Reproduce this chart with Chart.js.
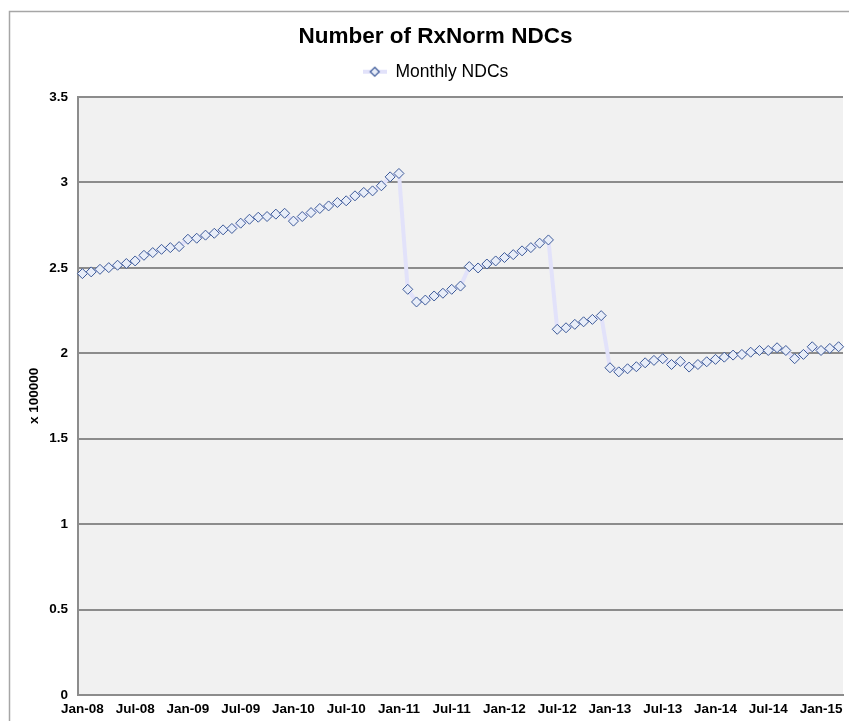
<!DOCTYPE html>
<html>
<head>
<meta charset="utf-8">
<script src="https://cdn.jsdelivr.net/npm/chart.js@4"></script>
<style>
  body { margin: 0; background: #fff; }
  #wrap { width: 849px; height: 721px; position: relative; }
</style>
</head>
<body>
<div id="wrap"><canvas id="chart" width="849" height="721"></canvas></div>
<script>
const monthNames = ['Jan','Feb','Mar','Apr','May','Jun','Jul','Aug','Sep','Oct','Nov','Dec'];
const years = ['08','09','10','11','12','13','14','15'];

// monthly NDC counts, in units of 100000, Jan-08 .. Mar-15
const ndcs = [
  2.466, 2.476, 2.491, 2.501, 2.515, 2.525, 2.540, 2.573, 2.589, 2.608, 2.618, 2.624,
  2.667, 2.673, 2.691, 2.702, 2.722, 2.730, 2.761, 2.784, 2.796, 2.800, 2.814, 2.819,
  2.773, 2.800, 2.823, 2.847, 2.862, 2.882, 2.892, 2.921, 2.941, 2.950, 2.980, 3.032,
  3.052, 2.374, 2.300, 2.311, 2.335, 2.351, 2.374, 2.393, 2.507, 2.499, 2.522, 2.540,
  2.560, 2.577, 2.599, 2.618, 2.644, 2.663, 2.140, 2.149, 2.169, 2.184, 2.198, 2.220,
  1.915, 1.891, 1.909, 1.921, 1.944, 1.958, 1.968, 1.934, 1.952, 1.919, 1.934, 1.950,
  1.964, 1.977, 1.989, 1.993, 2.006, 2.016, 2.016, 2.032, 2.016, 1.968, 1.993, 2.038,
  2.016, 2.028, 2.038
];

const labels = [];
years.forEach(y => monthNames.forEach(m => labels.push(m + '-' + y)));
labels.length = ndcs.length;

const lineColor = '#e2e2fa';
const markerEdge = '#3d5a99';
const markerFill = '#e8edf8';

// legend swatch: short line with a diamond on it
const swatch = document.createElement('canvas');
swatch.width = 24; swatch.height = 12;
(function () {
    const c = swatch.getContext('2d');
    c.strokeStyle = lineColor; c.lineWidth = 4;
    c.beginPath(); c.moveTo(0, 6); c.lineTo(24, 6); c.stroke();
    c.fillStyle = markerFill; c.strokeStyle = markerEdge; c.lineWidth = 1.2;
    c.beginPath(); c.moveTo(12, 1.5); c.lineTo(16.5, 6); c.lineTo(12, 10.5); c.lineTo(7.5, 6); c.closePath();
    c.fill(); c.stroke();
})();

const frame = {
    id: 'frame',
    beforeDraw(chart) {
        const ctx = chart.ctx;
        const a = chart.chartArea;
        ctx.save();
        ctx.fillStyle = '#f1f1f1';
        ctx.fillRect(a.left, a.top, a.right - a.left, a.bottom - a.top);
        ctx.strokeStyle = '#a6a6a6';
        ctx.lineWidth = 1.5;
        ctx.beginPath();
        ctx.moveTo(9.5, 721);
        ctx.lineTo(9.5, 11.5);
        ctx.lineTo(849, 11.5);
        ctx.stroke();
        ctx.restore();
    }
};

new Chart(document.getElementById('chart').getContext('2d'), {
    type: 'line',
    data: {
        labels: labels,
        datasets: [{
            label: 'Monthly NDCs',
            data: ndcs,
            borderColor: lineColor,
            borderWidth: 4,
            pointStyle: 'rectRot',
            pointRadius: 5,
            pointBorderWidth: 1,
            pointBorderColor: markerEdge,
            pointBackgroundColor: markerFill,
            tension: 0
        }]
    },
    options: {
        responsive: false,
        animation: false,
        layout: { padding: { left: 22, right: 0, top: 15, bottom: 0 } },
        plugins: {
            title: {
                display: true,
                text: 'Number of RxNorm NDCs',
                color: '#000',
                font: { family: 'Liberation Sans, Arial', size: 22.5, weight: 'bold' },
                padding: { top: 8, bottom: 7 }
            },
            subtitle: {
                display: true,
                text: ' ',
                position: 'top',
                weight: 0,
                font: { size: 2 },
                padding: { top: 0, bottom: 4 }
            },
            legend: {
                labels: {
                    usePointStyle: true,
                    pointStyleWidth: 24,
                    color: '#000',
                    font: { family: 'Liberation Sans, Arial', size: 17.5 },
                    boxHeight: 12,
                    padding: 6,
                    generateLabels: chart => {
                        const items = Chart.defaults.plugins.legend.labels.generateLabels(chart);
                        items.forEach(it => { it.pointStyle = swatch; });
                        return items;
                    }
                }
            },
            tooltip: { enabled: false }
        },
        scales: {
            x: {
                offset: true,
                grid: { display: false, drawTicks: false },
                border: { color: '#8c8c8c', width: 2 },
                ticks: {
                    autoSkip: false,
                    maxRotation: 0,
                    padding: 6,
                    color: '#000',
                    font: { family: 'Liberation Sans, Arial', size: 13.5, weight: 'bold' },
                    callback: (v, i) => (i % 6 === 0 ? labels[i] : '')
                },
                afterFit: s => { s.height = 26; }
            },
            y: {
                min: 0,
                max: 3.5,
                ticks: {
                    stepSize: 0.5,
                    padding: 10,
                    color: '#000',
                    font: { family: 'Liberation Sans, Arial', size: 13.5, weight: 'bold' },
                    callback: v => String(v)
                },
                grid: { color: '#8c8c8c', lineWidth: 2, drawTicks: false },
                border: { color: '#8c8c8c', width: 2 },
                title: {
                    display: true,
                    text: 'x 100000',
                    color: '#000',
                    font: { family: 'Liberation Sans, Arial', size: 13.5, weight: 'bold' }
                },
                afterFit: s => { s.width = 56; }
            }
        }
    },
    plugins: [frame]
});
</script>
</body>
</html>
